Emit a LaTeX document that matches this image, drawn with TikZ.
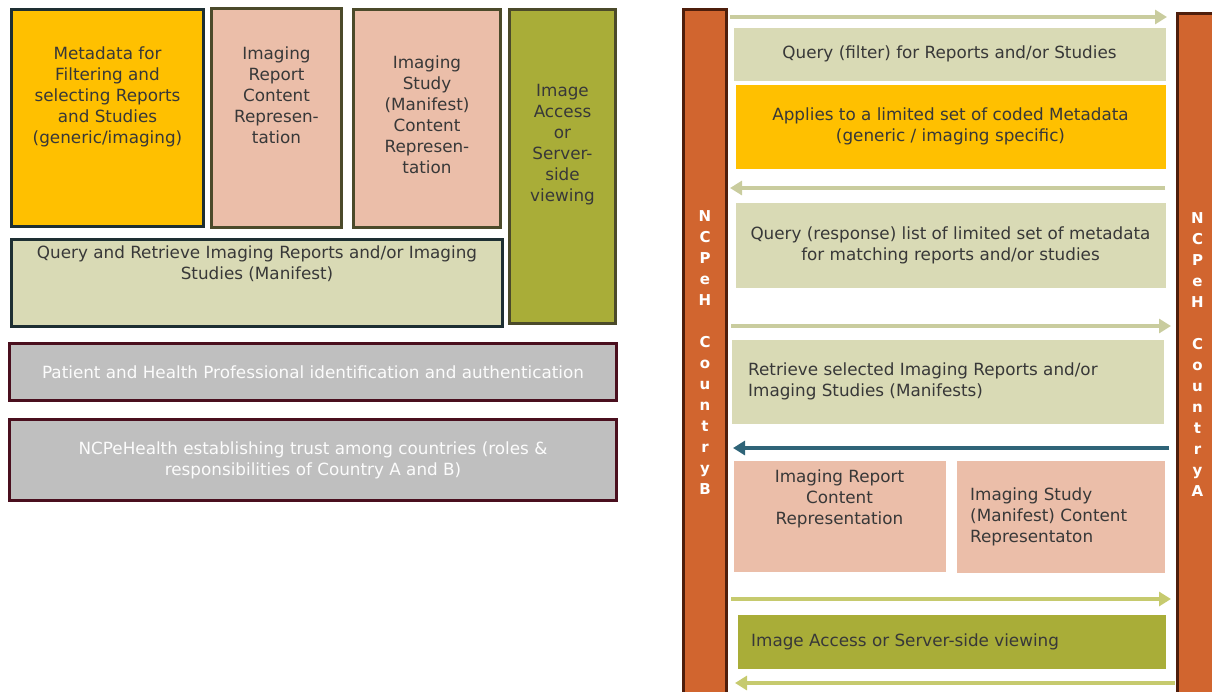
\documentclass[tikz,border=0pt]{standalone}
\usepackage{fontspec}
\setmainfont{DejaVu Sans}
\usetikzlibrary{positioning,arrows.meta}

\definecolor{qgold}{HTML}{FFC000}
\definecolor{qpink}{HTML}{EBBEA9}
\definecolor{qolive}{HTML}{A9AD38}
\definecolor{qsage}{HTML}{D9DAB5}
\definecolor{qgrey}{HTML}{BFBFBF}
\definecolor{qrust}{HTML}{D1652F}
\definecolor{qink}{HTML}{1E2F33}
\definecolor{qmoss}{HTML}{4B4A2A}
\definecolor{qwine}{HTML}{4A0F1E}
\definecolor{qbrown}{HTML}{4E1E0C}
\definecolor{qtext}{HTML}{383838}
\definecolor{qarrow}{HTML}{C9CC9E}
\definecolor{qlime}{HTML}{C6CA6E}
\definecolor{qteal}{HTML}{2F6478}

\tikzset{
  box/.style={anchor=north west, inner sep=0pt, line width=3pt},
  txt/.style={inner sep=0pt, align=center, text=qtext,
    font=\fontsize{16.8}{21}\selectfont},
  lefttxt/.style={txt, align=left},
  bar/.style={box, fill=qrust, draw=qbrown, text=white,
    font=\bfseries\fontsize{15}{21}\selectfont, align=center},
  flow/.style={line width=4pt, draw=qarrow,
    -{Triangle[length=12pt,width=14pt]}},
}

\begin{document}
\begin{tikzpicture}[x=1pt,y=-1pt]
  \path[use as bounding box, clip] (0,0) rectangle (1212,691);

  % left stack
  \node[box, fill=qgold, draw=qink, minimum width=192pt, minimum height=217pt] (meta) at (10,8) {};
  \node[box, fill=qpink, draw=qmoss, minimum width=130pt, minimum height=219pt] (rep) at (210,7) {};
  \node[box, fill=qpink, draw=qmoss, minimum width=147pt, minimum height=218pt] (stu) at (352,8) {};
  \node[box, fill=qolive, draw=qmoss, minimum width=106pt, minimum height=314pt] (acc) at (508,8) {};
  \node[txt, below=39pt of meta.north] {Metadata for\\Filtering and\\selecting Reports\\and Studies\\(generic/imaging)};
  \node[txt, below=40pt of rep.north] {Imaging\\Report\\Content\\Represen-\\tation};
  \node[txt, below=48pt of stu.north] {Imaging\\Study\\(Manifest)\\Content\\Represen-\\tation};
  \node[txt, below=76pt of acc.north] {Image\\Access\\or\\Server-\\side\\viewing};

  \node[box, fill=qsage, draw=qink, minimum width=491pt, minimum height=87pt] (qr) at (10,238) {};
  \node[txt, below=8pt of qr.north] {Query and Retrieve Imaging Reports and/or Imaging\\Studies (Manifest)};

  \node[box, fill=qgrey, draw=qwine, minimum width=607pt, minimum height=57pt, txt, text=white!95!qgrey] (pat) at (8,342)
    {Patient and Health Professional identification and authentication};
  \node[box, fill=qgrey, draw=qwine, minimum width=607pt, minimum height=81pt, txt, text=white!95!qgrey] (trust) at (8,418)
    {NCPeHealth establishing trust among countries (roles \&\\responsibilities of Country A and B)};

  % right: exchange between the two NCPs
  \node[bar, minimum width=43pt, minimum height=686pt] (ncpb) at (682,8)
    {N\\C\\P\\e\\H\\[21pt]C\\o\\u\\n\\t\\r\\y\\B};
  \node[bar, minimum width=40pt, minimum height=682pt] (ncpa) at (1176,12)
    {N\\C\\P\\e\\H\\[21pt]C\\o\\u\\n\\t\\r\\y\\A};

  \node[box, fill=qsage, minimum width=432pt, minimum height=53pt, txt] (filt) at (732,26)
    {Query (filter) for Reports and/or Studies};
  \node[box, fill=qgold, minimum width=430pt, minimum height=84pt, txt] (appl) at (734,83)
    {Applies to a limited set of coded Metadata\\(generic / imaging specific)};
  \node[box, fill=qsage, minimum width=430pt, minimum height=85pt, txt] (resp) at (734,201)
    {Query (response) list of limited set of metadata\\for matching reports and/or studies};
  \node[box, fill=qsage, minimum width=432pt, minimum height=84pt] (retr) at (730,338) {};
  \node[lefttxt, right=18pt of retr.west] {Retrieve selected Imaging Reports and/or\\Imaging Studies (Manifests)};
  \node[box, fill=qpink, minimum width=212pt, minimum height=111pt] (irep) at (732,459) {};
  \node[txt, below=11pt of irep.north] {Imaging Report\\Content\\Representation};
  \node[box, fill=qpink, minimum width=208pt, minimum height=112pt] (istu) at (955,459) {};
  \node[lefttxt, right=15pt of istu.west] {Imaging Study\\(Manifest) Content\\Representaton};
  \node[box, fill=qolive, minimum width=428pt, minimum height=54pt] (iacc) at (736,613) {};
  \node[lefttxt, right=15pt of iacc.west] {Image Access or Server-side viewing};

  % message arrows
  \coordinate (m1b) at (730,17);  \coordinate (m1a) at (1167,17);
  \coordinate (m2b) at (730,188); \coordinate (m2a) at (1165,188);
  \coordinate (m3b) at (731,326); \coordinate (m3a) at (1171,326);
  \coordinate (m4b) at (733,448); \coordinate (m4a) at (1169,448);
  \coordinate (m5b) at (731,599); \coordinate (m5a) at (1171,599);
  \coordinate (m6b) at (735,683); \coordinate (m6a) at (1175,683);
  \draw[flow] (m1b) -- (m1a);
  \draw[flow] (m2a) -- (m2b);
  \draw[flow] (m3b) -- (m3a);
  \draw[flow, draw=qteal, line width=3.5pt] (m4a) -- (m4b);
  \draw[flow, draw=qlime] (m5b) -- (m5a);
  \draw[flow, draw=qlime] (m6a) -- (m6b);
\end{tikzpicture}
\end{document}
